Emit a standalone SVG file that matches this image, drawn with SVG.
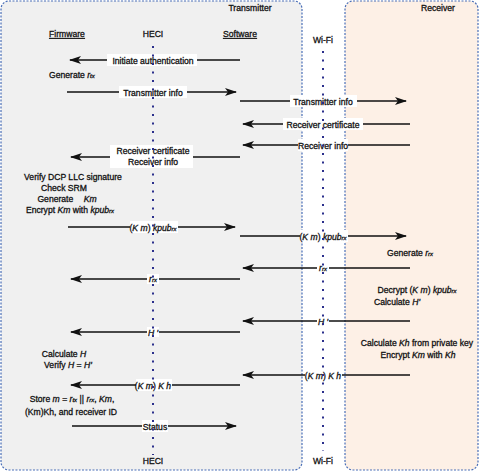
<svg xmlns="http://www.w3.org/2000/svg" width="480" height="472" viewBox="0 0 480 472">
<style>
text{font-family:"Liberation Sans",Arial,sans-serif;font-size:8.6px;fill:#111;stroke:#111;stroke-width:0.3}
.m{text-anchor:middle}
.u{text-decoration:underline}
.i{font-style:italic}
.s{font-size:6px;font-style:italic}
.box{stroke:#4a6fb8;stroke-width:1.2;stroke-dasharray:2 1.5}
.dot{stroke:#2b2f8c;stroke-width:2;stroke-dasharray:2 6.5}
.ar{stroke:#111;stroke-width:1.4;fill:none;marker-end:url(#ah)}
.bg{fill:#fff}
</style>
<defs>
<marker id="ah" viewBox="0 0 12 8" refX="11" refY="4" markerWidth="12" markerHeight="8" markerUnits="userSpaceOnUse" orient="auto">
<path d="M0,0 L12,4 L0,8 L3,4 z" fill="#111"/>
</marker>
</defs>
<g id="transmitter">
<rect class="box" x="1" y="1" width="301" height="469" rx="8" fill="#f0f0f0"/>
<text class="m" x="250" y="11">Transmitter</text>
</g>
<g id="receiver">
<rect class="box" x="345" y="1" width="133" height="469" rx="8" fill="#fdf0e6"/>
<text class="m" x="438" y="11">Receiver</text>
</g>
<g id="firmware"><text class="m u" x="67" y="37">Firmware</text></g>
<g id="software"><text class="m u" x="240" y="37">Software</text></g>
<g id="notes">
<text x="49" y="78">Generate <tspan class="i">r</tspan><tspan class="s">tx</tspan></text>
<text class="m" x="73" y="180">Verify DCP LLC signature</text>
<text class="m" x="64" y="191">Check SRM</text>
<text class="m" x="67" y="202">Generate <tspan class="i" dx="8">Km</tspan></text>
<text class="m" x="70" y="213">Encrypt <tspan class="i">Km</tspan> with <tspan class="i">kpub</tspan><tspan class="s">rx</tspan></text>
<text x="387" y="256">Generate <tspan class="i">r</tspan><tspan class="s">rx</tspan></text>
<text class="m" x="417" y="293">Decrypt (<tspan class="i">K m</tspan>) <tspan class="i">kpub</tspan><tspan class="s">rx</tspan></text>
<text class="m" x="397" y="305">Calculate <tspan class="i">H'</tspan></text>
<text class="m" x="417" y="346">Calculate <tspan class="i">Kh</tspan> from private key</text>
<text class="m" x="418" y="358">Encrypt <tspan class="i">Km</tspan> with <tspan class="i">Kh</tspan></text>
<text class="m" x="64" y="357">Calculate <tspan class="i">H</tspan></text>
<text class="m" x="68" y="368">Verify <tspan class="i">H</tspan> = <tspan class="i">H'</tspan></text>
<text class="m" x="72" y="402">Store <tspan class="i">m</tspan> = <tspan class="i">r</tspan><tspan class="s">tx</tspan> || <tspan class="i">r</tspan><tspan class="s">rx</tspan>, <tspan class="i">Km</tspan>,</text>
<text class="m" x="71" y="415">(Km)Kh, and receiver ID</text>
</g>
<g id="connectors">
<line class="ar" x1="240" y1="60" x2="70" y2="60"/>
<rect class="bg" x="107" y="54" width="90" height="12"/>
<text class="m" x="153" y="63.5">Initiate authentication</text>

<line class="ar" x1="67" y1="92" x2="236" y2="92"/>
<rect class="bg" x="119" y="86" width="68" height="12"/>
<text class="m" x="153" y="95.5">Transmitter info</text>

<line class="ar" x1="240" y1="101" x2="406" y2="101"/>
<rect class="bg" x="290" y="95" width="67" height="12"/>
<text class="m" x="323" y="104.5">Transmitter info</text>

<line class="ar" x1="410" y1="124" x2="243" y2="124"/>
<rect class="bg" x="283" y="118" width="80" height="12"/>
<text class="m" x="323" y="127.5">Receiver certificate</text>

<line class="ar" x1="410" y1="145" x2="243" y2="145"/>
<rect class="bg" x="298" y="139" width="50" height="12"/>
<text class="m" x="323" y="148.5">Receiver info</text>

<line class="ar" x1="240" y1="157" x2="71" y2="157"/>
<rect class="bg" x="110" y="145" width="83" height="23"/>
<text class="m" x="153" y="153.5">Receiver certificate</text>
<text class="m" x="153" y="165">Receiver info</text>

<line class="ar" x1="68" y1="227" x2="235" y2="227"/>
<rect class="bg" x="130" y="221" width="48" height="12"/>
<text class="m" x="153" y="230.5">(<tspan class="i">K m</tspan>) <tspan class="i">kpub</tspan><tspan class="s">rx</tspan></text>

<line class="ar" x1="240" y1="236" x2="406" y2="236"/>
<rect class="bg" x="300" y="230" width="48" height="12"/>
<text class="m" x="323" y="239.5">(<tspan class="i">K m</tspan>) <tspan class="i">kpub</tspan><tspan class="s">rx</tspan></text>

<line class="ar" x1="410" y1="268" x2="243" y2="268"/>
<rect class="bg" x="317" y="263" width="12" height="10"/>
<text class="m" x="323" y="271"><tspan class="i">r</tspan><tspan class="s">rx</tspan></text>

<line class="ar" x1="240" y1="279" x2="71" y2="279"/>
<rect class="bg" x="147" y="274" width="12" height="10"/>
<text class="m" x="153" y="282"><tspan class="i">r</tspan><tspan class="s">rx</tspan></text>

<line class="ar" x1="410" y1="321" x2="243" y2="321"/>
<rect class="bg" x="317" y="316" width="12" height="10"/>
<text class="m i" x="323" y="324.5">H '</text>

<line class="ar" x1="240" y1="332" x2="71" y2="332"/>
<rect class="bg" x="147" y="327" width="12" height="10"/>
<text class="m i" x="153" y="335.5">H '</text>

<line class="ar" x1="410" y1="375" x2="243" y2="375"/>
<rect class="bg" x="305" y="369" width="37" height="12"/>
<text class="m" x="323" y="378.5">(<tspan class="i">K m</tspan>) <tspan class="i">K h</tspan></text>

<line class="ar" x1="240" y1="385" x2="71" y2="385"/>
<rect class="bg" x="136" y="379" width="36" height="12"/>
<text class="m" x="153" y="388.5">(<tspan class="i">K m</tspan>) <tspan class="i">K h</tspan></text>

<line class="ar" x1="72" y1="426" x2="236" y2="426"/>
<rect class="bg" x="142" y="420" width="26" height="12"/>
<text class="m" x="155" y="429.5">Status</text>
</g>
<g id="heci">
<line class="dot" x1="153" y1="46" x2="153" y2="455"/>
<text class="m" x="153" y="37">HECI</text>
<text class="m" x="153" y="464">HECI</text>
</g>
<g id="wifi">
<line class="dot" x1="323" y1="51" x2="323" y2="451"/>
<text class="m" x="323" y="43">Wi-Fi</text>
<text class="m" x="323" y="464">Wi-Fi</text>
</g>
</svg>
